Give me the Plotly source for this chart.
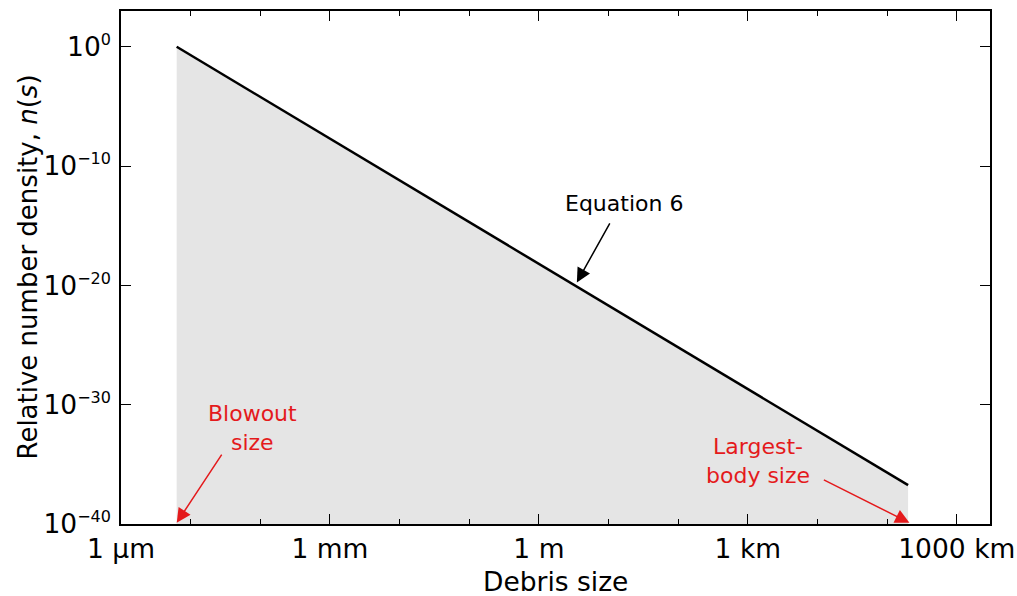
import plotly.graph_objects as go

# Data
sizes_m = [6.3e-6, 2.0e5]          # blowout size -> largest-body size (m)
density = [1.0, 1.8e-37]           # relative number density n(s)
floor_val = 1e-40

x_tick_vals = [1e-6, 1e-3, 1, 1e3, 1e6]
x_tick_text = ["1 µm", "1 mm", "1 m", "1 km", "1000 km"]
x_minor_vals = [10.0**k for k in range(-6, 7) if k % 3 != 0]
y_tick_vals = [1e0, 1e-10, 1e-20, 1e-30, 1e-40]
y_exponents = ["0", "−10", "−20", "−30", "−40"]

FONT = "DejaVu Sans"
RED = "#e41a1c"

y_tick_text = ["10<sup><span style='font-size:16px'>%s</span></sup>" % e for e in y_exponents]

fig = go.Figure()
fig.add_trace(go.Scatter(
    x=[sizes_m[0], sizes_m[0], sizes_m[1], sizes_m[1]],
    y=[floor_val, density[0], density[1], floor_val],
    fill="toself", fillcolor="#e5e5e5", mode="none",
    hoverinfo="skip", showlegend=False))
fig.add_trace(go.Scatter(
    x=sizes_m, y=density, mode="lines",
    line=dict(color="black", width=2.5), showlegend=False))

axis_common = dict(showline=True, linecolor="black", linewidth=1.5,
                   mirror="ticks", ticks="inside", tickcolor="black",
                   tickwidth=1.2, showgrid=False, zeroline=False,
                   tickfont=dict(family=FONT, size=26.5, color="black"))

fig.update_xaxes(type="log", range=[-6, 6.477],
                 tickvals=x_tick_vals, ticktext=x_tick_text, ticklen=10,
                 minor=dict(tickvals=x_minor_vals, ticklen=5, ticks="inside",
                            tickcolor="black", tickwidth=1.2, showgrid=False),
                 **axis_common)
fig.update_yaxes(type="log", range=[-40, 3],
                 tickvals=y_tick_vals, ticktext=y_tick_text, ticklen=10,
                 ticklabelstandoff=3,
                 **axis_common)

# Axis titles
fig.add_annotation(x=0.5, y=0, xref="paper", yref="paper", yanchor="middle",
                   yshift=-57, text="Debris size", showarrow=False,
                   font=dict(family=FONT, size=26.5, color="black"))
fig.add_annotation(x=0, y=0.5, xref="paper", yref="paper", xanchor="center",
                   xshift=-94, textangle=-90,
                   text="Relative number density, <i>n</i>(<i>s</i>)", showarrow=False,
                   font=dict(family=FONT, size=26, color="black"))

ann_font = dict(family=FONT, size=22, color="black")
red_font = dict(family=FONT, size=22, color=RED)
# Arrows (data coords in log10 units)
fig.add_annotation(x=0.545, y=-19.75, ax=1.03, ay=-14.67, xref="x", yref="y",
                   axref="x", ayref="y", text="", showarrow=True,
                   arrowhead=2, arrowsize=1.9, arrowwidth=1.5, arrowcolor="black")
fig.add_annotation(x=-5.2, y=-39.9, ax=-4.54, ay=-34.06, xref="x", yref="y",
                   axref="x", ayref="y", text="", showarrow=True,
                   arrowhead=2, arrowsize=1.9, arrowwidth=1.5, arrowcolor=RED)
fig.add_annotation(x=5.32, y=-39.9, ax=4.07, ay=-36.24, xref="x", yref="y",
                   axref="x", ayref="y", text="", showarrow=True,
                   arrowhead=2, arrowsize=1.9, arrowwidth=1.5, arrowcolor=RED)
# Labels
fig.add_annotation(x=1.22, y=-13.1, text="Equation 6", showarrow=False, font=ann_font)
fig.add_annotation(x=-4.105, y=-31.96, text="Blowout<br>size", showarrow=False, font=red_font)
fig.add_annotation(x=3.143, y=-34.73, text="Largest-<br>body size", showarrow=False, font=red_font)

fig.update_layout(width=1017, height=596, plot_bgcolor="white", paper_bgcolor="white",
                  margin=dict(l=121, r=27, t=11, b=72, autoexpand=False),
                  font=dict(family=FONT, color="black"))
fig.write_html("out.html", config={"displayModeBar": False},
               post_script="document.body.style.margin='0';document.body.style.overflow='hidden';")
